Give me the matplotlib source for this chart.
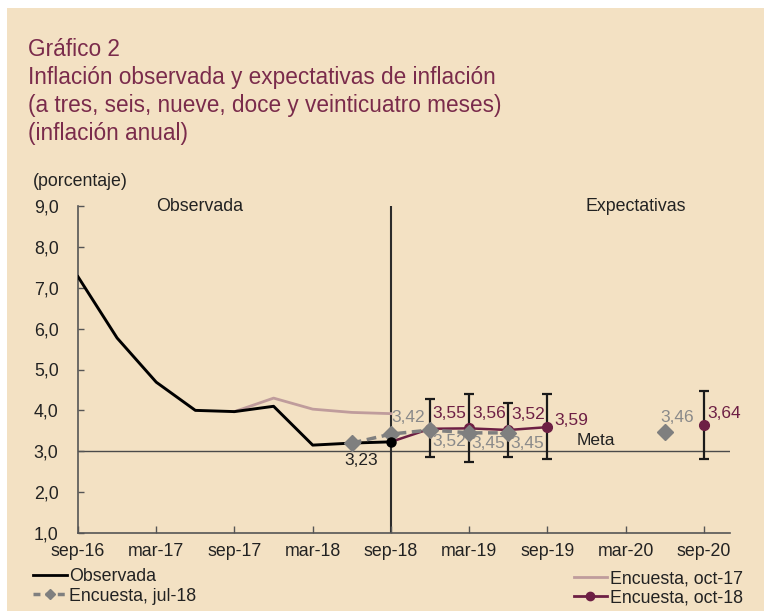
import numpy as np
import matplotlib
matplotlib.use('Agg')
import matplotlib.pyplot as plt
from matplotlib.patches import Rectangle
from matplotlib.lines import Line2D

plt.rcParams['font.family'] = ['Liberation Sans', 'DejaVu Sans']

# meses contados desde sep-16
tick_meses = [0, 6, 12, 18, 24, 30, 36, 42, 48]
tick_labels = ['sep-16', 'mar-17', 'sep-17', 'mar-18', 'sep-18',
               'mar-19', 'sep-19', 'mar-20', 'sep-20']

# inflacion observada
obs_x = [0, 3, 6, 9, 12, 15, 18, 21, 24]
obs_y = [7.27, 5.77, 4.69, 4.00, 3.97, 4.10, 3.15, 3.20, 3.23]

# encuesta oct-17
oct17_x = [12, 15, 18, 21, 24]
oct17_y = [3.97, 4.30, 4.03, 3.95, 3.92]

# encuesta jul-18
jul18_x = [21, 24, 27, 30, 33]
jul18_y = [3.20, 3.42, 3.52, 3.45, 3.45]
jul18_24m_x = 45
jul18_24m_y = 3.46

# encuesta oct-18 (con rangos)
oct18_x = [24, 27, 30, 33, 36]
oct18_y = [3.23, 3.55, 3.56, 3.52, 3.59]
oct18_24m_x = 48
oct18_24m_y = 3.64
rango_x = [27, 30, 33, 36, 48]
rango_bajo = [2.85, 2.73, 2.86, 2.80, 2.80]
rango_alto = [4.27, 4.40, 4.18, 4.40, 4.47]
rango_y = [3.55, 3.56, 3.52, 3.59, 3.64]

meta = 3.0

beige = '#f3e1c3'
granate = '#6d1f44'
titulo_col = '#7a2b4b'
gris = '#7f7f7f'
gris_txt = '#8a8a8a'
rosa = '#bf9c9c'

def fmt(v):
    return '{:.2f}'.format(v).replace('.', ',')

fig = plt.figure(figsize=(7.64, 6.11), dpi=100, facecolor='white')
fig.patches.append(Rectangle((7/764, 0), 1, 1 - 8/611, transform=fig.transFigure,
                             facecolor=beige, edgecolor='none', zorder=-10))

titulos = ['Gráfico 2',
           'Inflación observada y expectativas de inflación',
           '(a tres, seis, nueve, doce y veinticuatro meses)',
           '(inflación anual)']
for i, t in enumerate(titulos):
    fig.text(28/764, 1 - (56 + 28*i)/611, t, fontsize=16.3, color=titulo_col,
             va='baseline', ha='left')

fig.text(33/764, 1 - 182/611, '(porcentaje)', fontsize=12.8, color='#222222',
         va='center', ha='left')

ax = fig.add_axes([78/764, 1 - 533/611, (730 - 78)/764, (533 - 206)/611])
ax.set_facecolor('none')

ax.set_xlim(0, 50)
ax.set_ylim(1, 9)
ax.set_xticks(tick_meses)
ax.set_xticklabels(tick_labels)
ax.set_yticks(np.arange(1, 10))
ax.set_yticklabels([fmt(v)[:-1] for v in np.arange(1, 10)])
ax.tick_params(axis='both', direction='in', labelsize=12.8, colors='#555555',
               labelcolor='#222222', width=1)
ax.tick_params(axis='y', length=4, pad=14)
ax.tick_params(axis='x', length=5, pad=7)
for s in ['top', 'right']:
    ax.spines[s].set_visible(False)
for s in ['left', 'bottom']:
    ax.spines[s].set_color('#555555')
    ax.spines[s].set_linewidth(1.2)

# meta y separacion observada / expectativas
ax.axhline(meta, color='#4a4a4a', lw=1, zorder=1)
ax.axvline(24, color='#2b2b2b', lw=1.5, zorder=1)

ax.plot(oct17_x, oct17_y, color=rosa, lw=2, zorder=2)
ax.plot(obs_x, obs_y, color='black', lw=2.1, zorder=3)

ax.errorbar(rango_x, rango_y,
            yerr=[np.array(rango_y) - np.array(rango_bajo),
                  np.array(rango_alto) - np.array(rango_y)],
            fmt='none', ecolor='#1a1a1a', elinewidth=1.6, capsize=3.5,
            capthick=1.6, zorder=3)
ax.plot(oct18_x, oct18_y, color=granate, lw=1.8, zorder=5)
ax.plot(oct18_x[1:], oct18_y[1:], ls='none', marker='o', markersize=7,
        color=granate, zorder=6)
ax.plot(oct18_24m_x, oct18_24m_y, ls='none', marker='o', markersize=7,
        color=granate, zorder=6)

ax.plot(jul18_x, jul18_y, color=gris, lw=2.5, ls=(0, (2.8, 1.6)),
        marker='D', markersize=8.5, markeredgecolor=gris, zorder=7)
ax.plot(jul18_24m_x, jul18_24m_y, ls='none', marker='D', markersize=8.5,
        color=gris, zorder=7)
ax.plot(obs_x[-1], obs_y[-1], ls='none', marker='o', markersize=6.5,
        color='black', zorder=8)

fs = 12.5
ax.annotate(fmt(obs_y[-1]), (obs_x[-1], obs_y[-1]), xytext=(-21.5, -13.5),
            textcoords='offset points', ha='center', va='center',
            fontsize=fs, color='#222222')
ax.annotate(fmt(jul18_y[1]), (jul18_x[1], jul18_y[1]), xytext=(0.5, 12),
            textcoords='offset points', ha='left', va='center',
            fontsize=fs, color=gris_txt)
for x, y in zip(jul18_x[2:], jul18_y[2:]):
    ax.annotate(fmt(y), (x, y), xytext=(1.5, -8),
                textcoords='offset points', ha='left', va='center',
                fontsize=fs, color=gris_txt)
for x, y in zip(oct18_x[1:4], oct18_y[1:4]):
    ax.annotate(fmt(y), (x, y), xytext=(2, 11),
                textcoords='offset points', ha='left', va='center',
                fontsize=fs, color=granate)
ax.annotate(fmt(oct18_y[4]), (oct18_x[4], oct18_y[4]), xytext=(5, 4.5),
            textcoords='offset points', ha='left', va='center',
            fontsize=fs, color=granate)
ax.annotate(fmt(jul18_24m_y), (jul18_24m_x, jul18_24m_y), xytext=(9, 11),
            textcoords='offset points', ha='center', va='center',
            fontsize=fs, color=gris_txt)
ax.annotate(fmt(oct18_24m_y), (oct18_24m_x, oct18_24m_y), xytext=(2.5, 8.5),
            textcoords='offset points', ha='left', va='center',
            fontsize=fs, color=granate)

ax.text(39.7, 3.27, 'Meta', fontsize=fs, color='#222222', ha='center', va='center')
ax.text(9.3, 8.98, 'Observada', fontsize=12.8, color='#222222', ha='center', va='center')
ax.text(42.8, 8.98, 'Expectativas', fontsize=12.8, color='#222222', ha='center', va='center')

h_obs = Line2D([], [], color='black', lw=2)
h_jul = Line2D([], [], color=gris, lw=2.5, ls=(0, (2, 1.5)), marker='D', markersize=5)
h_o17 = Line2D([], [], color=rosa, lw=2)
h_o18 = Line2D([], [], color=granate, lw=2, marker='o', markersize=6)

leg1 = fig.legend([h_obs, h_jul], ['Observada', 'Encuesta, jul-18'],
                  loc='upper left', bbox_to_anchor=(33/764, 1 - 568/611),
                  frameon=False, fontsize=12.8, handlelength=1.9,
                  handletextpad=0.15, labelspacing=0.15, borderpad=0,
                  borderaxespad=0, numpoints=1)
leg2 = fig.legend([h_o17, h_o18], ['Encuesta, oct-17', 'Encuesta, oct-18'],
                  loc='upper right', bbox_to_anchor=(743/764, 1 - 570/611),
                  frameon=False, fontsize=12.8, handlelength=1.9,
                  handletextpad=0.15, labelspacing=0.15, borderpad=0,
                  borderaxespad=0, numpoints=1)
for leg in (leg1, leg2):
    for t in leg.get_texts():
        t.set_color('#222222')

fig.savefig('out.png', dpi=100, facecolor='white')
